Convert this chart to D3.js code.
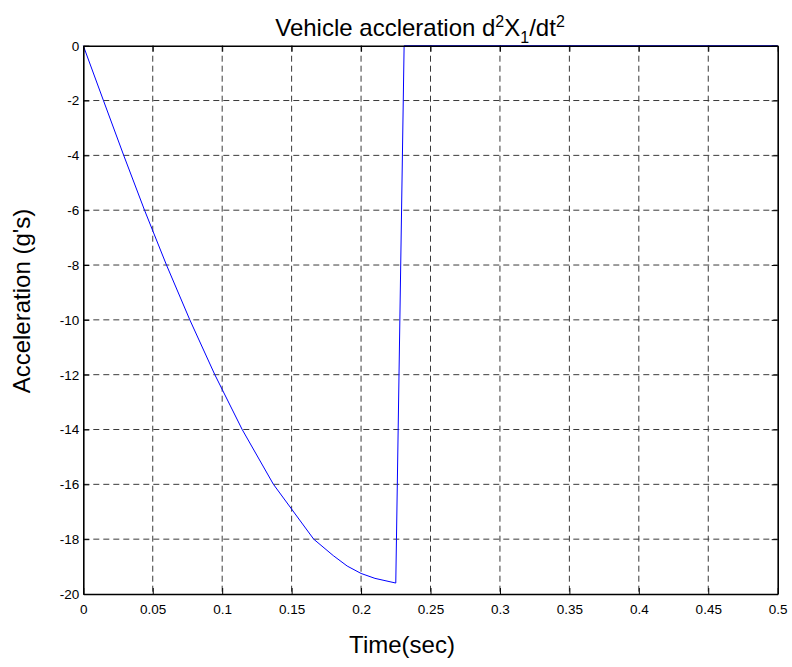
<!DOCTYPE html>
<html>
<head>
<meta charset="utf-8">
<script src="https://cdn.jsdelivr.net/npm/d3@7"></script>
<style>
  body { margin: 0; background: #fff; }
  svg text { font-family: "Liberation Sans", Arial, sans-serif; fill: #000; }
</style>
</head>
<body>
<div id="chart"></div>
<script>
// values
let timeSec = [0, 0.0145, 0.0291, 0.0441, 0.0599, 0.0767, 0.0947, 0.1144, 0.1369, 0.1659, 0.18, 0.19, 0.2, 0.21, 0.225, 0.231, 0.5];
let accelG  = [0, -2, -4, -6, -8, -10, -12, -14, -16, -18, -18.6, -18.98, -19.25, -19.43, -19.6, 0, 0];
let xTicks = [0, 0.05, 0.1, 0.15, 0.2, 0.25, 0.3, 0.35, 0.4, 0.45, 0.5];
let yTicks = [0, -2, -4, -6, -8, -10, -12, -14, -16, -18, -20];

let width = 792;
let height = 667;
let margin = {left: 83.3, top: 45.7, right: 792 - 777.7, bottom: 667 - 594};

let svg = d3.select("#chart")
    .append("svg")
    .attr("width", width)
    .attr("height", height);

let x = d3.scaleLinear().domain([0, 0.5]).range([margin.left, width - margin.right]);
let y = d3.scaleLinear().domain([-20, 0]).range([height - margin.bottom, margin.top]);

// dashed grid
svg.append("g")
    .selectAll("line")
    .data(xTicks.slice(1, -1))
    .join("line")
    .attr("x1", d => x(d)).attr("x2", d => x(d))
    .attr("y1", y(0)).attr("y2", y(-20))
    .attr("stroke", "#3a3a3a")
    .attr("stroke-dasharray", "6,4");

svg.append("g")
    .selectAll("line")
    .data(yTicks.slice(1, -1))
    .join("line")
    .attr("y1", d => y(d)).attr("y2", d => y(d))
    .attr("x1", x(0)).attr("x2", x(0.5))
    .attr("stroke", "#3a3a3a")
    .attr("stroke-dasharray", "6,4");

// the data line
let line = d3.line()
    .x((d, i) => x(timeSec[i]))
    .y(d => y(d));

svg.append("path")
    .datum(accelG)
    .attr("d", line)
    .attr("fill", "none")
    .attr("stroke", "#0000ff")
    .attr("stroke-width", 1);

// axes: ticks pointing inward, on all four sides
let tickLen = 6;
let bottomAxis = d3.axisBottom(x).tickValues(xTicks).tickSizeInner(-tickLen).tickSizeOuter(0)
    .tickPadding(10).tickFormat(d => String(d));
let topAxis = d3.axisTop(x).tickValues(xTicks).tickSizeInner(-tickLen).tickSizeOuter(0).tickFormat("");
let leftAxis = d3.axisLeft(y).tickValues(yTicks).tickSizeInner(-tickLen).tickSizeOuter(0)
    .tickPadding(4).tickFormat(d => String(d));
let rightAxis = d3.axisRight(y).tickValues(yTicks).tickSizeInner(-tickLen).tickSizeOuter(0).tickFormat("");

function styleAxis(g) {
    g.select(".domain").attr("stroke", "#000").attr("stroke-width", 1.6);
    g.selectAll(".tick line").attr("stroke", "#000").attr("stroke-width", 1);
    g.selectAll(".tick text").style("font-size", "13.5px").attr("fill", "#000");
}

svg.append("g").attr("transform", `translate(0,${y(-20)})`).call(bottomAxis).call(styleAxis);
svg.append("g").attr("transform", `translate(0,${y(0)})`).call(topAxis).call(styleAxis);
svg.append("g").attr("transform", `translate(${x(0)},0)`).call(leftAxis).call(styleAxis);
svg.append("g").attr("transform", `translate(${x(0.5)},0)`).call(rightAxis).call(styleAxis);

// title with super/subscripts
let title = svg.append("text")
    .attr("x", 420)
    .attr("y", 36)
    .attr("text-anchor", "middle")
    .style("font-size", "24px");
title.append("tspan").text("Vehicle accleration d");
title.append("tspan").attr("dy", -9).style("font-size", "16px").text("2");
title.append("tspan").attr("dy", 9).text("X");
title.append("tspan").attr("dy", 7).style("font-size", "16px").text("1");
title.append("tspan").attr("dy", -7).text("/dt");
title.append("tspan").attr("dy", -9).style("font-size", "16px").text("2");

// axis labels
svg.append("text")
    .attr("x", 402)
    .attr("y", 653)
    .attr("text-anchor", "middle")
    .style("font-size", "24px")
    .text("Time(sec)");

svg.append("text")
    .attr("transform", "translate(30,301) rotate(-90)")
    .attr("text-anchor", "middle")
    .style("font-size", "24px")
    .text("Acceleration (g's)");
</script>
</body>
</html>
